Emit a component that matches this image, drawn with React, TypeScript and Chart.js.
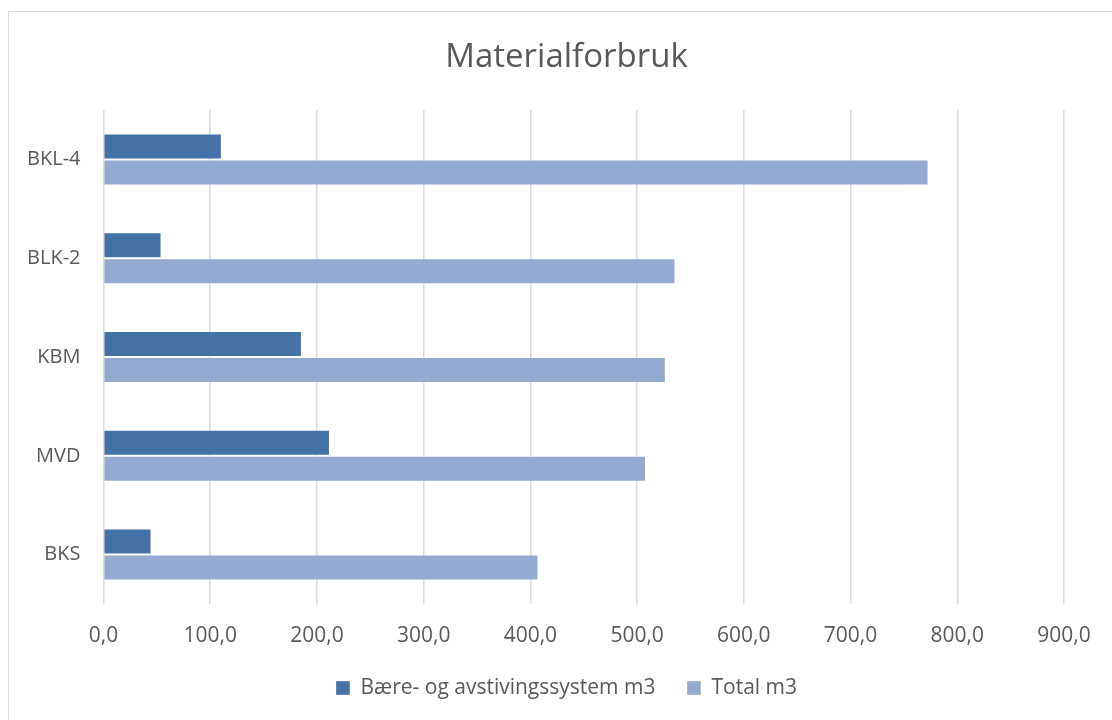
import React, { useEffect, useRef } from "react";
import { Chart, registerables } from "chart.js";

Chart.register(...registerables);

// Categories, top to bottom
const categories = ["BKL-4", "BLK-2", "KBM", "MVD", "BKS"];

// Series values (m3)
const bearingSystem = [110.9, 54.4, 185.9, 212.2, 45.0];
const totalVolume = [773.1, 535.9, 526.9, 508.4, 407.6];

const seriesNames = ["Bære- og avstivingssystem m3", "Total m3"];
const chartTitle = "Materialforbruk";

const TEXT = "#595959";
const FONT = "'Open Sans', 'Noto Sans', sans-serif";

const formatTick = (v: number) => v.toFixed(1).replace(".", ",");

export default function App() {
  const canvasRef = useRef<HTMLCanvasElement | null>(null);

  useEffect(() => {
    if (!canvasRef.current) return;
    const chart = new Chart(canvasRef.current, {
      type: "bar",
      data: {
        labels: categories,
        datasets: [
          {
            label: seriesNames[0],
            data: bearingSystem,
            backgroundColor: "#4572A6",
            borderColor: "rgba(255,255,255,0.35)",
            borderWidth: 1,
            categoryPercentage: 0.526,
            barPercentage: 1,
          },
          {
            label: seriesNames[1],
            data: totalVolume,
            backgroundColor: "#95AAD0",
            borderColor: "rgba(255,255,255,0.35)",
            borderWidth: 1,
            categoryPercentage: 0.526,
            barPercentage: 1,
          },
        ],
      },
      options: {
        indexAxis: "y",
        animation: false,
        responsive: true,
        maintainAspectRatio: false,
        layout: { padding: { left: 0, right: 0, top: 0, bottom: 11.5 } },
        plugins: {
          title: {
            display: true,
            text: chartTitle,
            color: TEXT,
            font: { family: FONT, size: 33, weight: "normal" },
            padding: { top: 25.8, bottom: 32.6 },
          },
          legend: {
            position: "bottom",
            labels: {
              color: TEXT,
              font: { family: FONT, size: 21 },
              boxWidth: 14,
              boxHeight: 14,
              padding: 31.5,
            },
          },
          tooltip: { enabled: false },
        },
        scales: {
          x: {
            min: 0,
            max: 900,
            ticks: {
              stepSize: 100,
              color: TEXT,
              font: { family: FONT, size: 21, lineHeight: 1 },
              padding: 21.5,
              callback: (v: any) => formatTick(Number(v)),
            },
            grid: { color: "#d9d9d9", lineWidth: 1.5, drawTicks: false },
            border: { display: false },
            afterFit: (scale: any) => {
              scale.height = 42;
            },
          },
          y: {
            ticks: {
              color: TEXT,
              font: { family: FONT, size: 20 },
              padding: 23,
            },
            grid: { display: false, drawTicks: false },
            border: { display: false },
            afterFit: (scale: any) => {
              scale.width = 94.5;
            },
          },
          // empty right-hand margin beside the plot area
          yRight: {
            type: "category",
            position: "right",
            display: true,
            ticks: { display: false },
            grid: { display: false, drawTicks: false },
            border: { display: false },
            afterFit: (scale: any) => {
              scale.width = 60;
            },
          },
        },
      },
    });
    return () => chart.destroy();
  }, []);

  return (
    <div
      style={{
        position: "fixed",
        left: 8,
        top: 11,
        width: 1116,
        height: 709,
        boxSizing: "border-box",
        borderTop: "1px solid #d9d9d9",
        borderLeft: "1px solid #d9d9d9",
        background: "#ffffff",
      }}
    >
      <div style={{ position: "relative", width: 1115, height: 708 }}>
        <canvas ref={canvasRef} />
      </div>
    </div>
  );
}
